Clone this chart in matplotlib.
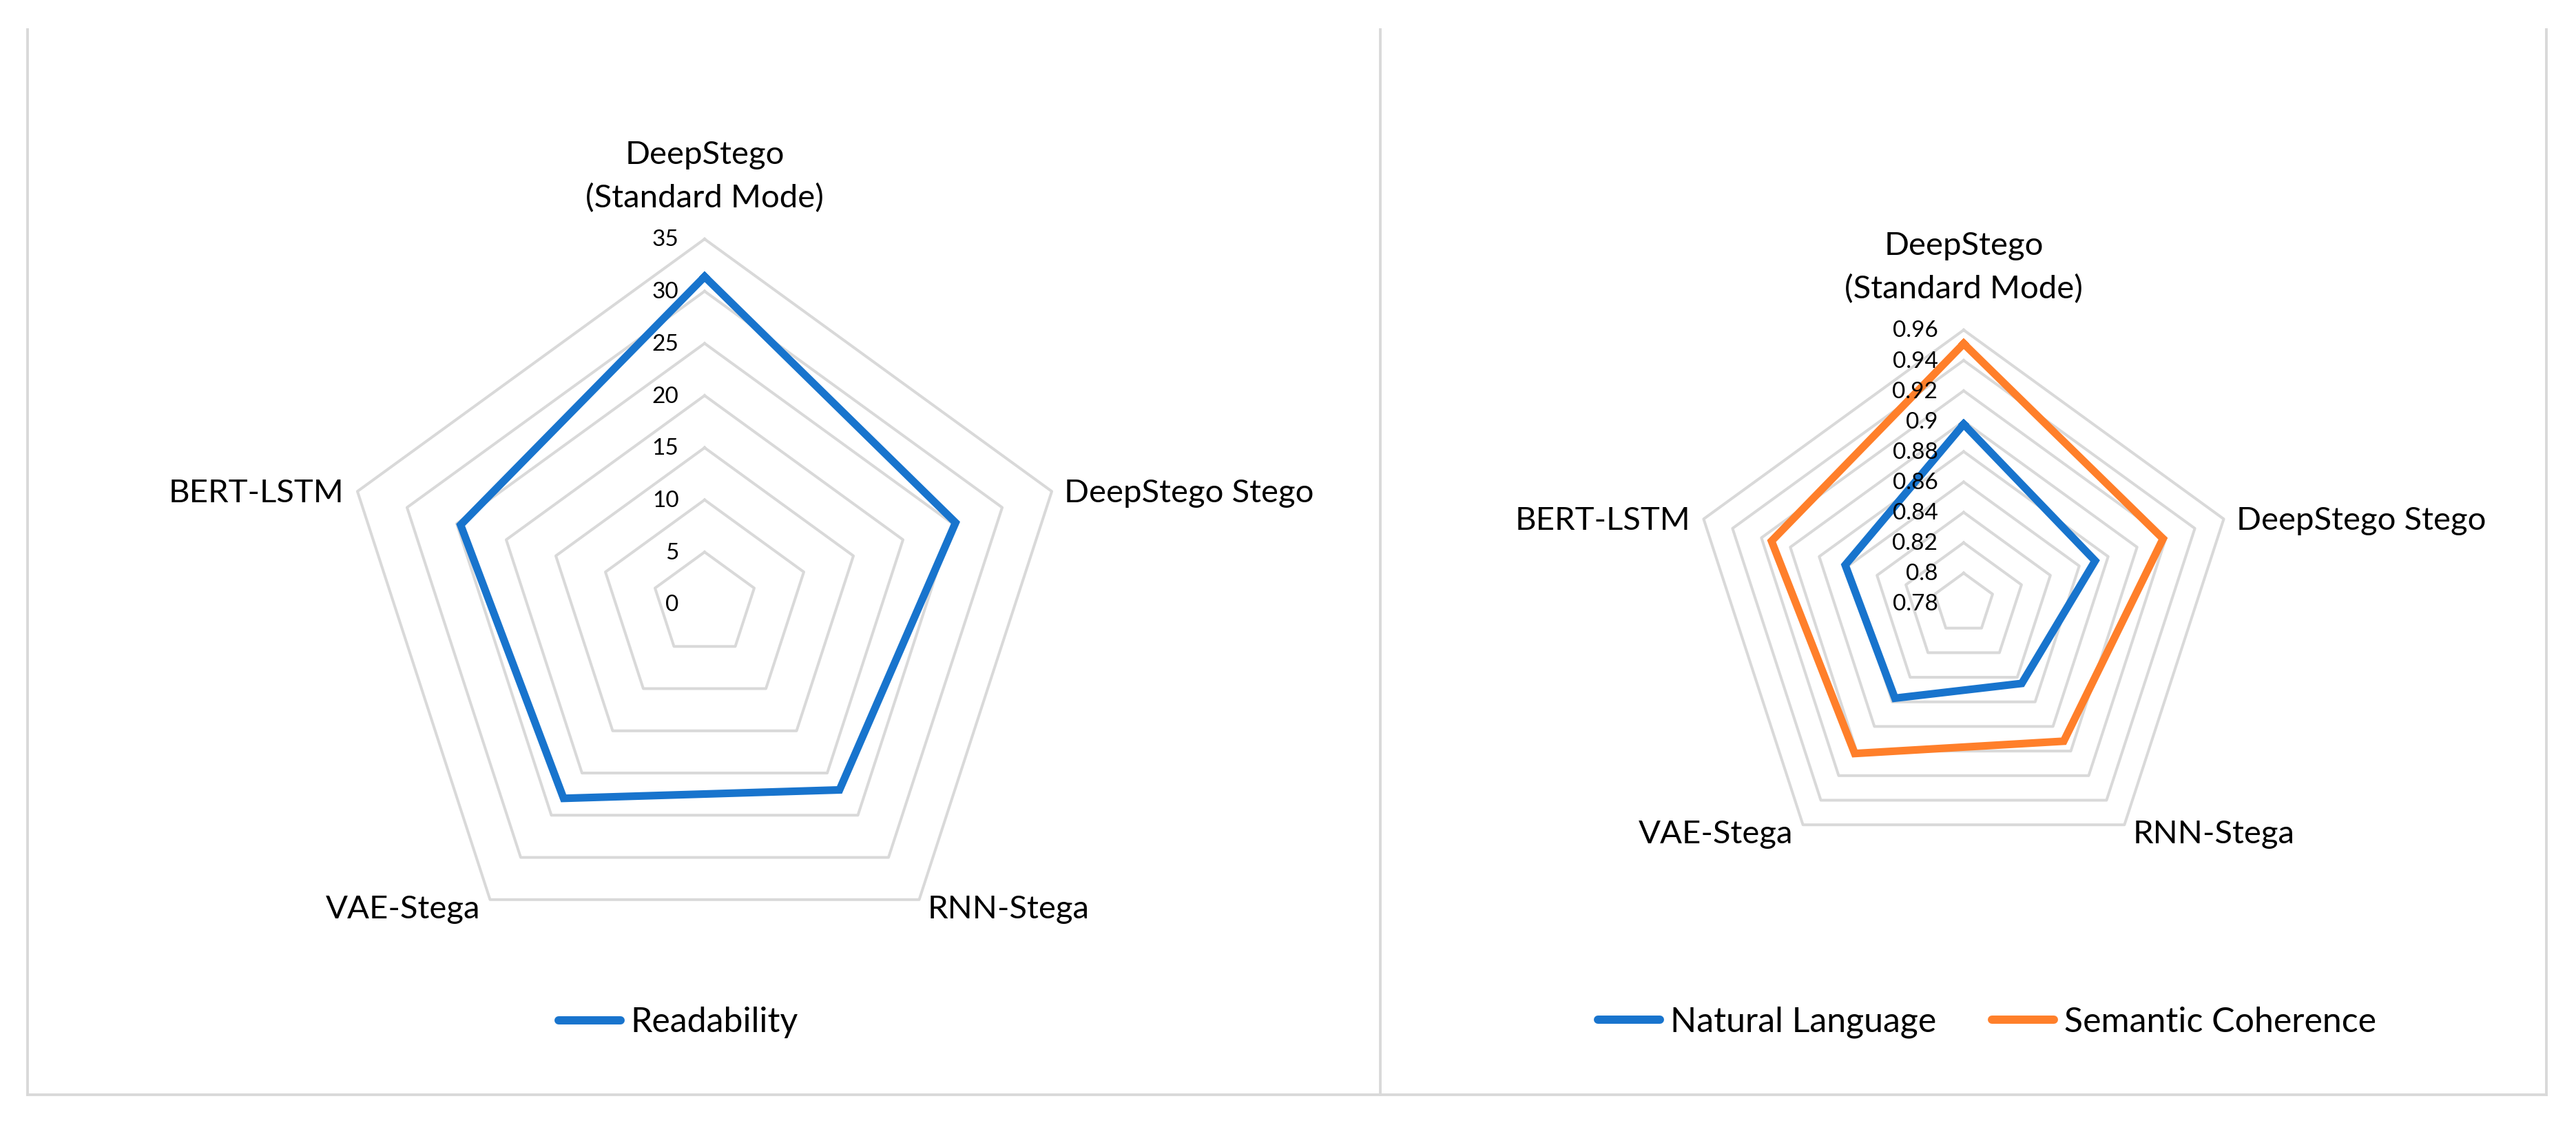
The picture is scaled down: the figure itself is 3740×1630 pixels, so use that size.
import numpy as np
import matplotlib.pyplot as plt
from matplotlib.lines import Line2D

plt.rcParams['font.family'] = ['Lato', 'DejaVu Sans']

categories = ["DeepStego\n(Standard Mode)", "DeepStego Stego", "RNN-Stega", "VAE-Stega", "BERT-LSTM"]

readability = [31.4, 25.3, 22.0, 23.0, 24.6]
natural_language = [0.898, 0.871, 0.845, 0.857, 0.862]
semantic_coherence = [0.951, 0.918, 0.892, 0.902, 0.913]

left_ticks = [0, 5, 10, 15, 20, 25, 30, 35]
left_tick_labels = ["0", "5", "10", "15", "20", "25", "30", "35"]
right_ticks = [0.78, 0.80, 0.82, 0.84, 0.86, 0.88, 0.90, 0.92, 0.94, 0.96]
right_tick_labels = ["0.78", "0.8", "0.82", "0.84", "0.86", "0.88", "0.9", "0.92", "0.94", "0.96"]

BLUE = "#1874CD"
ORANGE = "#FF7F2A"
GRID = "#D9D9D9"

W, H = 3741, 1630
fig = plt.figure(figsize=(W / 100, H / 100), dpi=100)

theta = np.linspace(0, 2 * np.pi, len(categories), endpoint=False)
theta_closed = np.append(theta, theta[0])


def close(vals):
    return list(vals) + [vals[0]]


def radar(cx, cy, R, ticks, tick_labels):
    ax = fig.add_axes([(cx - R) / W, (H - cy - R) / H, 2 * R / W, 2 * R / H], projection="polar")
    ax.set_theta_offset(np.pi / 2)
    ax.set_theta_direction(-1)
    ax.set_ylim(ticks[0], ticks[-1])
    ax.grid(False)
    ax.set_xticks([])
    ax.set_yticks([])
    ax.spines["polar"].set_visible(False)
    ax.patch.set_alpha(0)
    for v in ticks[1:]:
        ax.plot(theta_closed, [v] * len(theta_closed), color=GRID, lw=2.9, zorder=1, clip_on=False)
    for v, lab in zip(ticks, tick_labels):
        ax.annotate(lab, xy=(0, v), xytext=(-27, -1), textcoords="offset points",
                    ha="right", va="center", fontsize=24, color="#000000", zorder=5)
    rmax = ticks[-1]
    # category labels around the outer ring
    ax.annotate(categories[0], xy=(theta[0], rmax), xytext=(0, 27), textcoords="offset points",
                ha="center", va="bottom", fontsize=34, linespacing=1.6)
    ax.annotate(categories[1], xy=(theta[1], rmax), xytext=(13, -2), textcoords="offset points",
                ha="left", va="center", fontsize=34)
    ax.annotate(categories[2], xy=(theta[2], rmax), xytext=(9, 5), textcoords="offset points",
                ha="left", va="top", fontsize=34)
    ax.annotate(categories[3], xy=(theta[3], rmax), xytext=(-10, 5), textcoords="offset points",
                ha="right", va="top", fontsize=34)
    ax.annotate(categories[4], xy=(theta[4], rmax), xytext=(-14, -2), textcoords="offset points",
                ha="right", va="center", fontsize=34)
    return ax


ax1 = radar(1023, 877, 530, left_ticks, left_tick_labels)
ax1.plot(theta_closed, close(readability), color=BLUE, lw=8, solid_joinstyle="miter",
         zorder=3, clip_on=False, label="Readability")

ax2 = radar(2851, 876, 397, right_ticks, right_tick_labels)
ax2.plot(theta_closed, close(natural_language), color=BLUE, lw=8, solid_joinstyle="miter",
         zorder=3, clip_on=False, label="Natural Language")
ax2.plot(theta_closed, close(semantic_coherence), color=ORANGE, lw=8, solid_joinstyle="miter",
         zorder=3, clip_on=False, label="Semantic Coherence")

leg_kw = dict(loc="center", frameon=False, fontsize=36, handlelength=1.8,
              handletextpad=0.3, columnspacing=1.6)
leg1 = fig.legend(handles=ax1.get_lines()[-1:], bbox_to_anchor=(985 / W, 1 - 1484 / H), **leg_kw)
leg2 = fig.legend(handles=ax2.get_lines()[-2:], ncol=2, bbox_to_anchor=(2885 / W, 1 - 1484 / H), **leg_kw)
for leg in (leg1, leg2):
    for h in leg.get_lines():
        h.set_linewidth(8.6)
        h.set_solid_capstyle("round")

# chart area borders
for x in (40, 2004, 3697):
    fig.add_artist(Line2D([x / W, x / W], [1 - 43 / H, 1 - 1589 / H], color=GRID, lw=2.8))
fig.add_artist(Line2D([40 / W, 3697 / W], [1 - 1589 / H, 1 - 1589 / H], color=GRID, lw=2.8))

fig.savefig("out.png", dpi=100, facecolor="white")
